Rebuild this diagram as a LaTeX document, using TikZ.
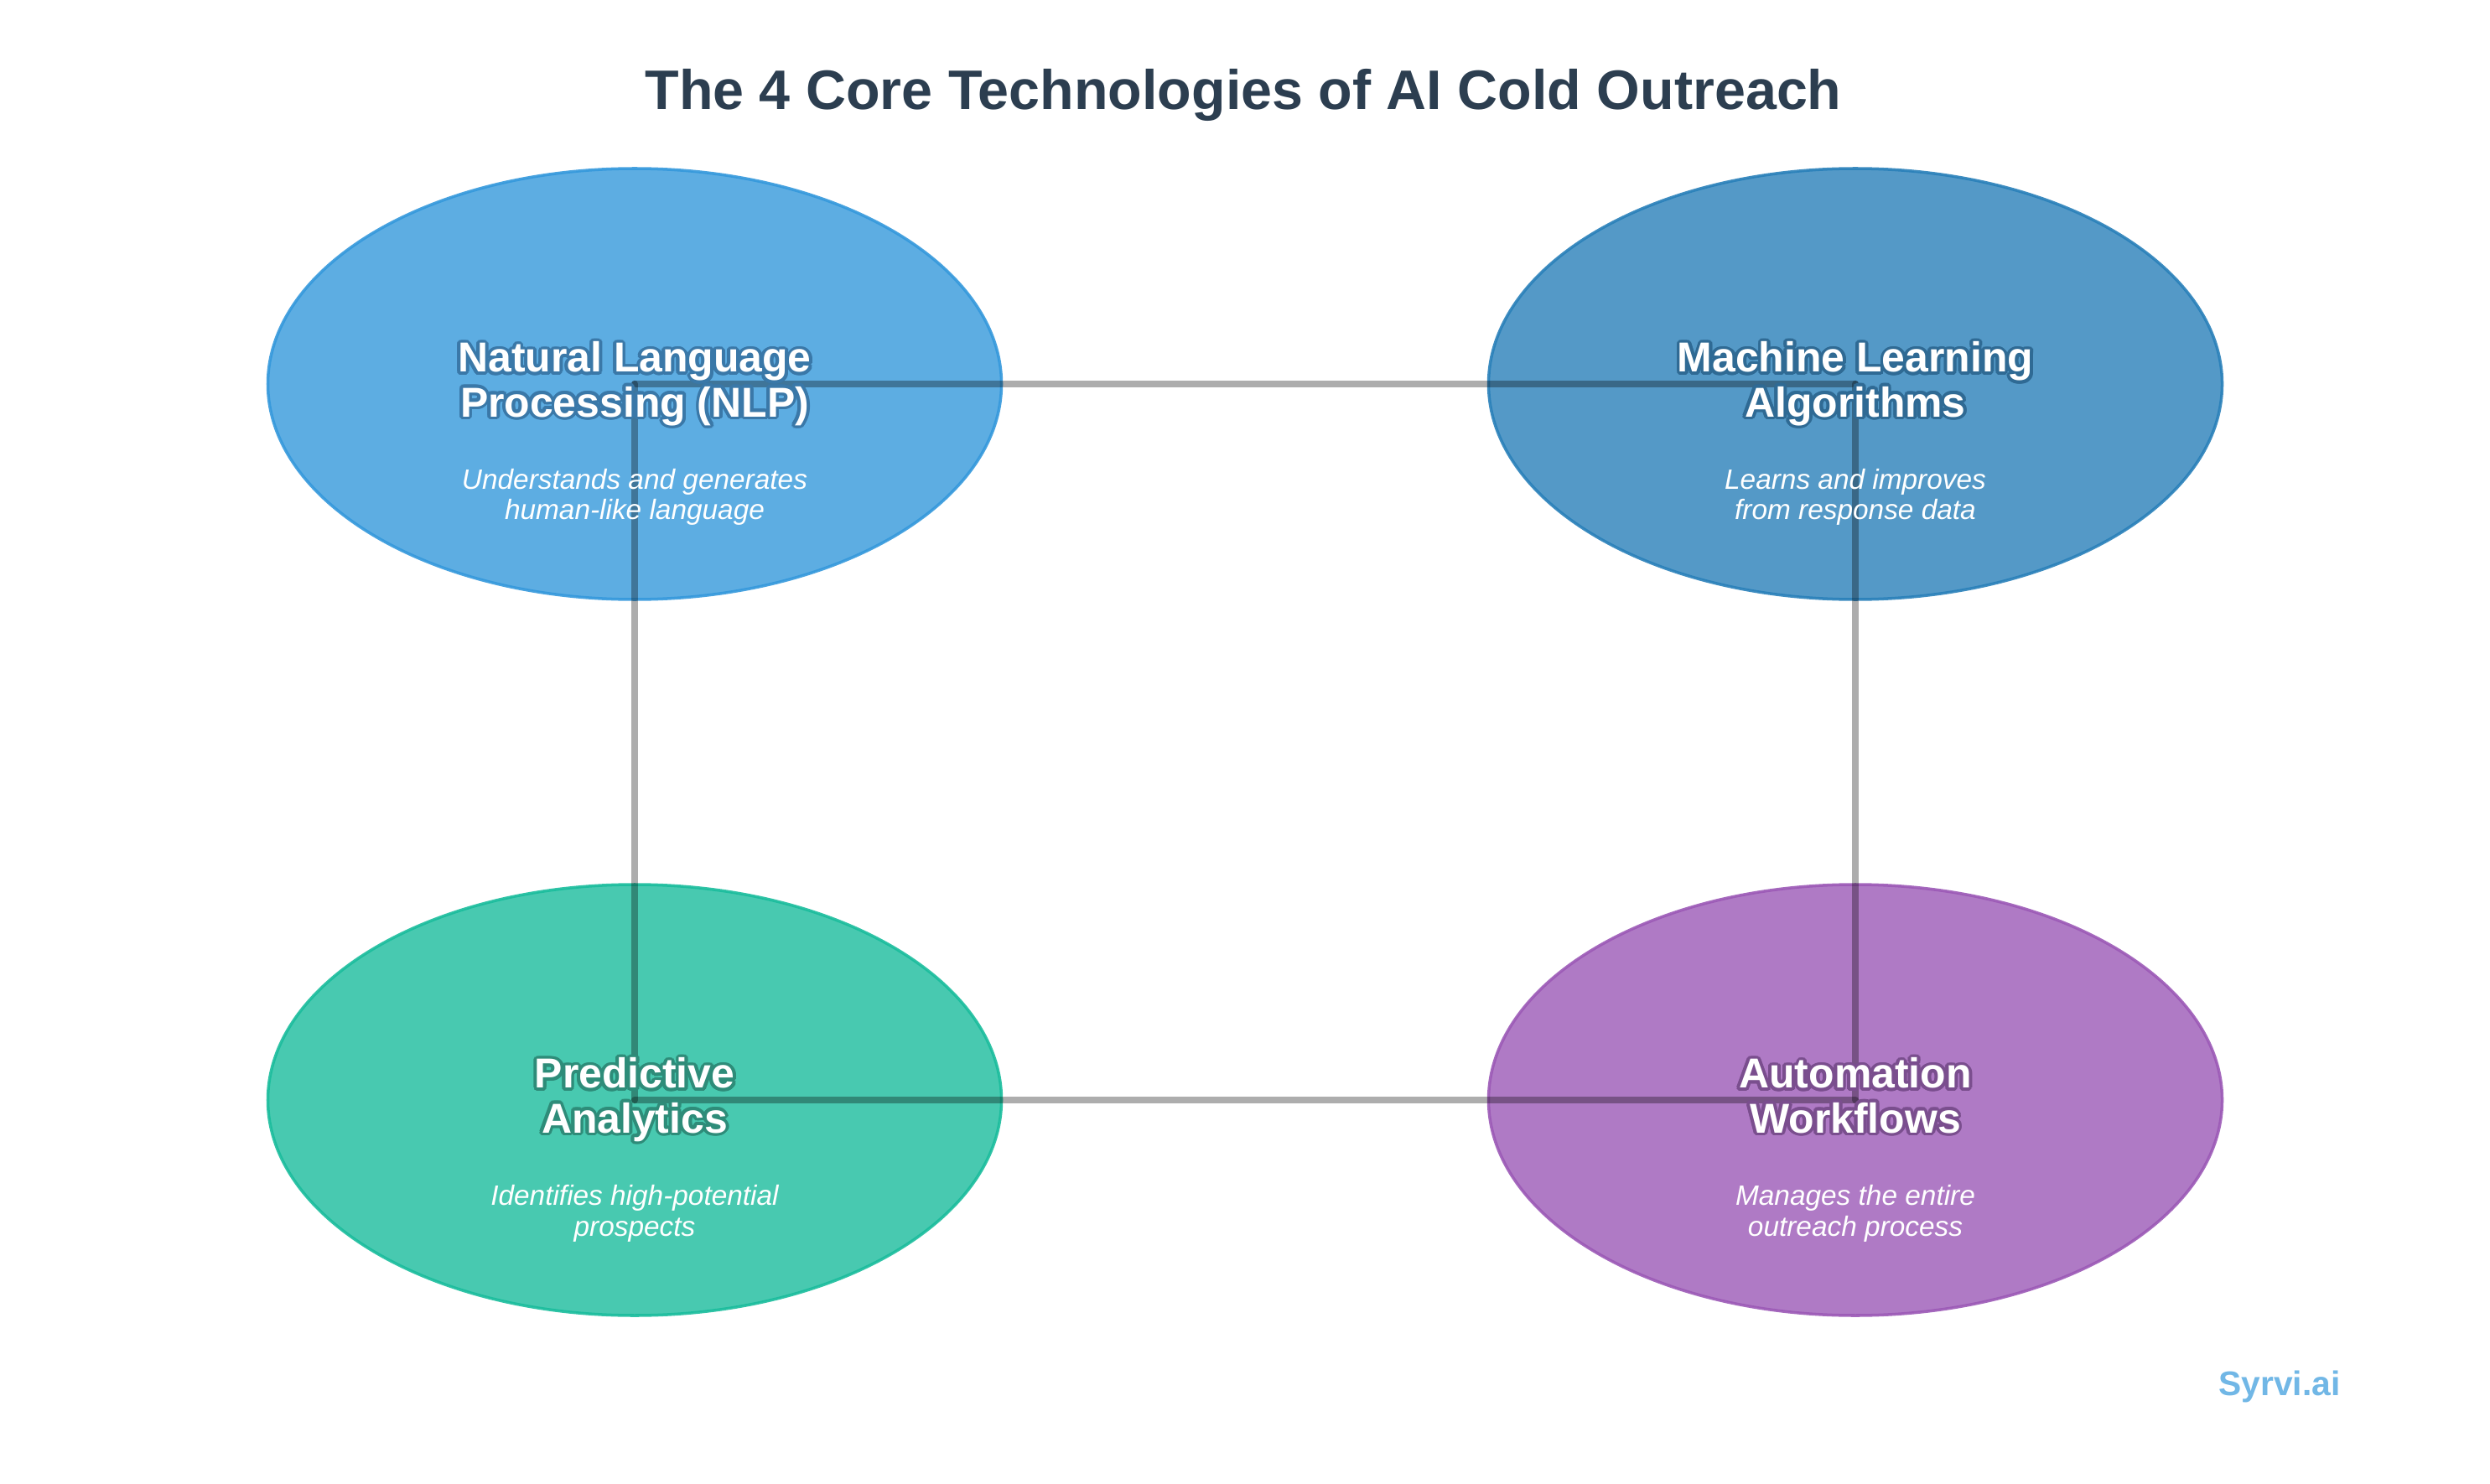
\documentclass[tikz,border=0pt]{standalone}
\usepackage{fontspec}
\setmainfont{Liberation Sans}
\usepackage[copies]{contour}
\usepackage{tikz}
\usetikzlibrary{shapes,positioning}

\definecolor{nlpblue}{HTML}{3498DB}
\definecolor{mlblue}{HTML}{2980B9}
\definecolor{predgreen}{HTML}{1ABC9C}
\definecolor{autopurple}{HTML}{9B59B6}
\definecolor{titlegray}{HTML}{2C3E50}
\definecolor{nlpdark}{HTML}{3A78A8}
\definecolor{mldark}{HTML}{2F6A94}
\definecolor{preddark}{HTML}{2E8C79}
\definecolor{autodark}{HTML}{7A4E8E}
\contourlength{1.1pt}

\begin{document}
\begin{tikzpicture}
  [%
 tech/.style={
  ellipse,
  minimum width=8.75cm,
  minimum height=5.14cm,
  inner sep=0pt,
  line width=1pt, % border
  draw=#1,
  draw opacity=0.9,
  fill=#1,
  fill opacity=0.8},
 link/.style={
  line width=2.4pt,
  draw=black,
  draw opacity=0.32,
  line cap=round},
 head/.style={
  text=white,
  align=center,
  anchor=base,
  font=\bfseries\fontsize{14.2}{15.1}\selectfont},
 desc/.style={
  text=white,
  align=center,
  anchor=base,
  font=\itshape\fontsize{9.5}{10.4}\selectfont}]
\useasboundingbox (0,0) rectangle (29.7,-17.7);
\node (title) [text=titlegray, anchor=base, font=\bfseries\fontsize{18.9}{22}\selectfont] at (14.83,-1.31) {The 4 Core Technologies of AI Cold Outreach};
% the four ellipses
\node (nlp) [tech=nlpblue] at (7.57,-4.58) {};
\node (ml) [tech=mlblue] at (22.13,-4.58) {};
\node (pred) [tech=predgreen] at (7.57,-13.12) {};
\node (auto) [tech=autopurple] at (22.13,-13.12) {};
% links between the centres
\path (nlp.center) edge[link] (ml.center);
\path (nlp.center) edge[link] (pred.center);
\path (ml.center) edge[link] (auto.center);
\path (pred.center) edge[link] (auto.center);
% texts
\node (nlphead) [head] at ([yshift=-0.39cm]nlp.center) {\contour{nlpdark}{Natural Language}\\\contour{nlpdark}{Processing (NLP)}};
\node (nlpdesc) [desc] at ([yshift=-1.62cm]nlp.center) {Understands and generates\\human-like language};
\node (mlhead) [head] at ([yshift=-0.39cm]ml.center) {\contour{mldark}{Machine Learning}\\\contour{mldark}{Algorithms}};
\node (mldesc) [desc] at ([yshift=-1.62cm]ml.center) {Learns and improves\\from response data};
\node (predhead) [head] at ([yshift=-0.39cm]pred.center) {\contour{preddark}{Predictive}\\\contour{preddark}{Analytics}};
\node (preddesc) [desc] at ([yshift=-1.62cm]pred.center) {Identifies high-potential\\prospects};
\node (autohead) [head] at ([yshift=-0.39cm]auto.center) {\contour{autodark}{Automation}\\\contour{autodark}{Workflows}};
\node (autodesc) [desc] at ([yshift=-1.62cm]auto.center) {Manages the entire\\outreach process};
\node (brand) [text=nlpblue, text opacity=0.7, anchor=base, font=\bfseries\fontsize{11.6}{14}\selectfont] at (27.19,-16.64) {Syrvi.ai};
\end{tikzpicture}
\end{document}
